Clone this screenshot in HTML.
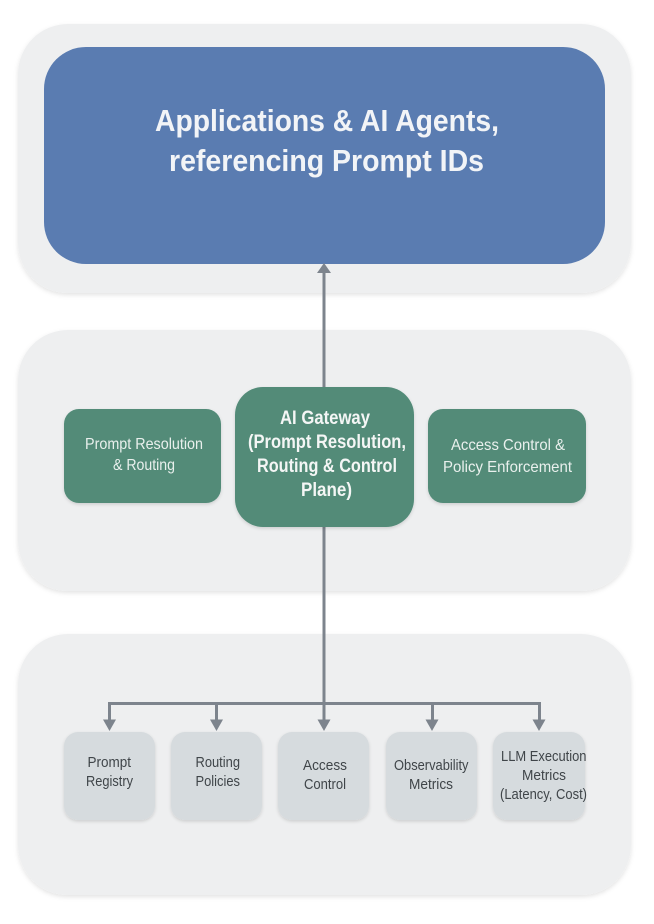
<!DOCTYPE html>
<html>
<head>
<meta charset="utf-8">
<style>
html,body{margin:0;padding:0;background:#fff;width:654px;height:924px;overflow:hidden}
svg{display:block}
text{font-family:"Liberation Sans",sans-serif;filter:url(#tb)}
.t{font-size:16px;fill:#e9f0ed}
.b{font-size:19px;font-weight:bold;fill:#f4f6f5}
.g{font-size:15px;fill:#3f4549}
.h{font-size:31px;font-weight:bold;fill:#f2f4f7}
</style>
</head>
<body>
<svg width="654" height="924" viewBox="0 0 654 924" xmlns="http://www.w3.org/2000/svg">
<defs>
<filter id="p" x="-10%" y="-10%" width="120%" height="125%"><feDropShadow dx="0" dy="2" stdDeviation="2.5" flood-color="#000" flood-opacity=".11"/></filter>
<filter id="s" x="-15%" y="-15%" width="130%" height="135%"><feDropShadow dx="0" dy="1.5" stdDeviation="1.5" flood-color="#000" flood-opacity=".14"/></filter>
<filter id="tb" x="-5%" y="-20%" width="110%" height="140%"><feGaussianBlur stdDeviation="0.3"/></filter>
</defs>
<rect width="654" height="924" fill="#fff"/>
<rect x="18" y="24" width="613" height="269" rx="50" fill="#eeeff0" filter="url(#p)"/>
<rect x="18" y="330" width="613" height="261" rx="50" fill="#eeeff0" filter="url(#p)"/>
<rect x="18" y="634" width="613" height="261" rx="50" fill="#eeeff0" filter="url(#p)"/>
<rect x="44" y="47" width="561" height="217" rx="42" fill="#5a7cb1"/>

<g stroke="#7d848d" stroke-width="3" fill="none">
<path d="M324 272V388M324 526V722"/>
<path d="M109.500 722V703.500H539.500V722M216.500 703.500V722M432.500 703.500V722"/>
</g>
<g fill="#7d848d">
<path d="M324 263L317 273H331Z"/>
<path d="M109.500 731L103 719.500H116Z"/>
<path d="M216.500 731L210 719.500H223Z"/>
<path d="M324 731L317.500 719.500H330.500Z"/>
<path d="M432 731L425.500 719.500H438.500Z"/>
<path d="M539 731L532.500 719.500H545.500Z"/>
</g>

<rect x="64" y="409" width="157" height="94" rx="15" fill="#528b78" filter="url(#s)"/>
<rect x="235" y="387" width="179" height="140" rx="28" fill="#528b78" filter="url(#s)"/>
<rect x="428" y="409" width="158" height="94" rx="15" fill="#528b78" filter="url(#s)"/>
<rect x="64" y="732" width="91" height="88" rx="14" fill="#d6dbde" filter="url(#s)"/>
<rect x="171" y="732" width="91" height="88" rx="14" fill="#d6dbde" filter="url(#s)"/>
<rect x="278" y="732" width="91" height="88" rx="14" fill="#d6dbde" filter="url(#s)"/>
<rect x="386" y="732" width="91" height="88" rx="14" fill="#d6dbde" filter="url(#s)"/>
<rect x="493" y="732" width="92" height="88" rx="14" fill="#d6dbde" filter="url(#s)"/>

<text class="h" x="155" y="131" textLength="344" lengthAdjust="spacingAndGlyphs">Applications &amp; AI Agents,</text>
<text class="h" x="169" y="171" textLength="315" lengthAdjust="spacingAndGlyphs">referencing Prompt IDs</text>

<text class="t" x="85" y="449" textLength="118" lengthAdjust="spacingAndGlyphs">Prompt Resolution</text>
<text class="t" x="113" y="470" textLength="62" lengthAdjust="spacingAndGlyphs">&amp; Routing</text>

<text class="b" x="280" y="424" textLength="90" lengthAdjust="spacingAndGlyphs">AI Gateway</text>
<text class="b" x="248" y="448" textLength="158" lengthAdjust="spacingAndGlyphs">(Prompt Resolution,</text>
<text class="b" x="257" y="472" textLength="140" lengthAdjust="spacingAndGlyphs">Routing &amp; Control</text>
<text class="b" x="301" y="496" textLength="51" lengthAdjust="spacingAndGlyphs">Plane)</text>

<text class="t" x="451" y="450" textLength="114" lengthAdjust="spacingAndGlyphs">Access Control &amp;</text>
<text class="t" x="443" y="472" textLength="129" lengthAdjust="spacingAndGlyphs">Policy Enforcement</text>

<text class="g" x="87.500" y="767" textLength="43.500" lengthAdjust="spacingAndGlyphs">Prompt</text>
<text class="g" x="86" y="786" textLength="47" lengthAdjust="spacingAndGlyphs">Registry</text>
<text class="g" x="195.500" y="767" textLength="44.500" lengthAdjust="spacingAndGlyphs">Routing</text>
<text class="g" x="195.500" y="786" textLength="44.500" lengthAdjust="spacingAndGlyphs">Policies</text>
<text class="g" x="303" y="770" textLength="44" lengthAdjust="spacingAndGlyphs">Access</text>
<text class="g" x="304" y="789" textLength="42" lengthAdjust="spacingAndGlyphs">Control</text>
<text class="g" x="394" y="770" textLength="74.500" lengthAdjust="spacingAndGlyphs">Observability</text>
<text class="g" x="409" y="789" textLength="44" lengthAdjust="spacingAndGlyphs">Metrics</text>
<text class="g" x="501" y="761" textLength="85.500" lengthAdjust="spacingAndGlyphs">LLM Execution</text>
<text class="g" x="522" y="780" textLength="44" lengthAdjust="spacingAndGlyphs">Metrics</text>
<text class="g" x="500" y="799" textLength="87" lengthAdjust="spacingAndGlyphs">(Latency, Cost)</text>
</svg>
</body>
</html>
